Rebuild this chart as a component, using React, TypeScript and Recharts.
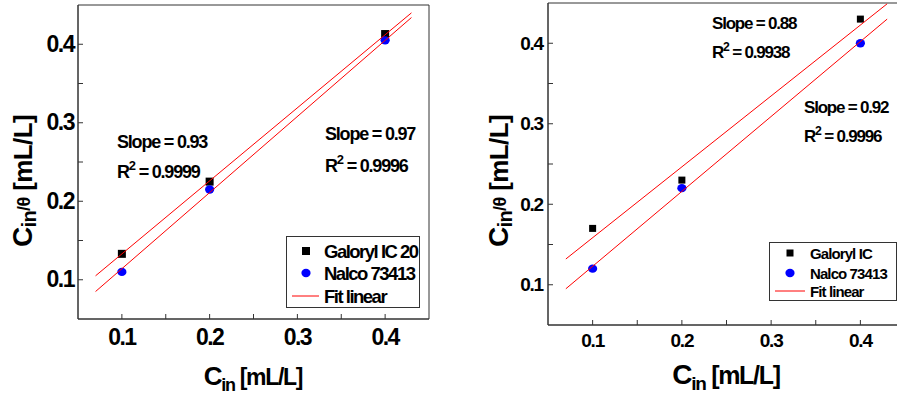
import React from "react";
import { ComposedChart, Scatter, XAxis, YAxis, ReferenceArea } from "recharts";

// shared axis setup
const axisDomain = [0.05, 0.45];
const allTicks = [0.1, 0.15, 0.2, 0.25, 0.3, 0.35, 0.4];
const majorTicks = [0.1, 0.2, 0.3, 0.4];

// concentrations C_in [mL/L]
const cin = [0.1, 0.2, 0.4];

// left panel
const galoryl20 = [0.133, 0.225, 0.413];
const nalcoLeft = [0.11, 0.215, 0.405];
const fitX = [0.07, 0.43];
const fitGaloryl20 = [0.105, 0.44];
const fitNalcoLeft = [0.085, 0.434];

// right panel
const galorylIC = [0.17, 0.23, 0.43];
const nalcoRight = [0.12, 0.22, 0.4];
const fitGalorylIC = [0.132, 0.449];
const fitNalcoRight = [0.095, 0.43];

const FONT = "'Liberation Sans', Arial, sans-serif";
const AXIS = "#333";

const toPoints = (xs: number[], ys: number[]) => xs.map((x, i) => ({ x, y: ys[i] }));
const isMajor = (v: number) => majorTicks.some((t) => Math.abs(t - v) < 1e-6);

const Square = ({ cx, cy, size }: any) => (
  <rect x={cx - size / 2} y={cy - size / 2} width={size} height={size} fill="#000" />
);
const Dot = ({ cx, cy }: any) => <ellipse cx={cx} cy={cy} rx={4.6} ry={4.2} fill="#0000ff" />;
const NoShape = () => <g />;

const makeXTick = (fontSize: number, drop: number, spacing: number) => (props: any) => {
  const { x, y, payload } = props;
  return (
    <g>
      <line x1={x} x2={x} y1={y} y2={y - 5} stroke={AXIS} />
      {isMajor(payload.value) && (
        <text x={x} y={y + drop} textAnchor="middle" fontSize={fontSize} fontWeight="bold" fontFamily={FONT} letterSpacing={spacing} fill="#000">
          {payload.value}
        </text>
      )}
    </g>
  );
};

const makeYTick = (fontSize: number, gap: number, spacing: number) => (props: any) => {
  const { x, y, payload } = props;
  return (
    <g>
      <line x1={x} x2={x + 5} y1={y} y2={y} stroke={AXIS} />
      {isMajor(payload.value) && (
        <text x={x - gap} y={y + fontSize * 0.33} textAnchor="end" fontSize={fontSize} fontWeight="bold" fontFamily={FONT} letterSpacing={spacing} fill="#000">
          {payload.value}
        </text>
      )}
    </g>
  );
};

interface PanelProps {
  left: number;
  width: number;
  margin: { top: number; right: number; bottom: number; left: number };
  yWidth: number;
  xHeight: number;
  tickFont: number;
  tickSpacing: number;
  xDrop: number;
  yGap: number;
  squareSize: number;
  galoryl: number[];
  nalco: number[];
  fitA: number[];
  fitB: number[];
}

const Panel = (p: PanelProps) => (
  <div style={{ position: "absolute", left: p.left, top: 0 }}>
    <ComposedChart width={p.width} height={395} margin={p.margin}>
      <XAxis
        type="number"
        dataKey="x"
        domain={axisDomain}
        ticks={allTicks}
        allowDataOverflow
        interval={0}
        height={p.xHeight}
        tickSize={0}
        tickMargin={0}
        tickLine={false}
        axisLine={{ stroke: AXIS }}
        tick={makeXTick(p.tickFont, p.xDrop, p.tickSpacing)}
      />
      <YAxis
        type="number"
        dataKey="y"
        domain={axisDomain}
        ticks={allTicks}
        allowDataOverflow
        interval={0}
        width={p.yWidth}
        tickSize={0}
        tickMargin={0}
        tickLine={false}
        axisLine={{ stroke: AXIS }}
        tick={makeYTick(p.tickFont, p.yGap, p.tickSpacing)}
      />
      <ReferenceArea x1={0.05} x2={0.45} y1={0.05} y2={0.45} fill="none" stroke={AXIS} strokeWidth={1} ifOverflow="visible" />
      <Scatter data={toPoints(cin, p.galoryl)} shape={(s: any) => <Square {...s} size={p.squareSize} />} isAnimationActive={false} />
      <Scatter data={toPoints(cin, p.nalco)} shape={Dot} isAnimationActive={false} />
      <Scatter data={toPoints(fitX, p.fitA)} line={{ stroke: "#ff0000", strokeWidth: 1 }} shape={NoShape} isAnimationActive={false} />
      <Scatter data={toPoints(fitX, p.fitB)} line={{ stroke: "#ff0000", strokeWidth: 1 }} shape={NoShape} isAnimationActive={false} />
    </ComposedChart>
  </div>
);

const RSquared = ({ x, y, size, value, spacing }: any) => (
  <text x={x} y={y} fontSize={size} fontWeight="bold" fontFamily={FONT} letterSpacing={spacing} fill="#000">
    R<tspan fontSize={size * 0.72} dy={-size * 0.42}>2</tspan>
    <tspan dy={size * 0.42}>{` = ${value}`}</tspan>
  </text>
);

const Note = ({ x, y, size, spacing, children }: any) => (
  <text x={x} y={y} fontSize={size} fontWeight="bold" fontFamily={FONT} letterSpacing={spacing} fill="#000">
    {children}
  </text>
);

const XTitle = ({ cx, y, c, sub, rest, spacing }: any) => (
  <text x={cx} y={y} textAnchor="middle" fontWeight="bold" fontFamily={FONT} fill="#000" letterSpacing={spacing}>
    <tspan fontSize={c}>C</tspan>
    <tspan fontSize={sub} dy={6}>in</tspan>
    <tspan fontSize={rest} dy={-6}> [mL/L]</tspan>
  </text>
);

const YTitle = ({ x, cy }: any) => (
  <text x={x} y={cy} transform={`rotate(-90 ${x} ${cy})`} textAnchor="middle" fontWeight="bold" fontFamily={FONT} letterSpacing={-0.6} fill="#000">
    <tspan fontSize={28}>C</tspan>
    <tspan fontSize={20} dy={4}>in</tspan>
    <tspan fontSize={18} dy={-6}>/θ</tspan>
    <tspan fontSize={26} dy={2}> [mL/L]</tspan>
  </text>
);

export default function App() {
  return (
    <div style={{ position: "fixed", left: 0, top: 0, width: 897, height: 395, overflow: "hidden", background: "#fff" }}>
      <Panel
        left={0}
        width={440}
        margin={{ top: 5, right: 11, bottom: 0, left: 0 }}
        yWidth={78}
        xHeight={76}
        tickFont={23}
        tickSpacing={-1.5}
        xDrop={26}
        yGap={4}
        squareSize={8}
        galoryl={galoryl20}
        nalco={nalcoLeft}
        fitA={fitGaloryl20}
        fitB={fitNalcoLeft}
      />
      <Panel
        left={450}
        width={470}
        margin={{ top: 3, right: 15, bottom: 0, left: 0 }}
        yWidth={98}
        xHeight={70}
        tickFont={19}
        tickSpacing={-1.2}
        xDrop={22}
        yGap={5}
        squareSize={7}
        galoryl={galorylIC}
        nalco={nalcoRight}
        fitA={fitGalorylIC}
        fitB={fitNalcoRight}
      />
      <svg width={897} height={395} style={{ position: "absolute", left: 0, top: 0, pointerEvents: "none" }}>
        {/* left annotations */}
        <Note x={117} y={148} size={18} spacing={-1.2}>Slope = 0.93</Note>
        <RSquared x={117} y={178} size={18} spacing={-1.2} value="0.9999" />
        <Note x={325} y={140} size={18} spacing={-1.2}>Slope = 0.97</Note>
        <RSquared x={325} y={172} size={18} spacing={-1.2} value="0.9996" />
        {/* right annotations */}
        <Note x={712} y={29} size={17} spacing={-1.2}>Slope = 0.88</Note>
        <RSquared x={712} y={58} size={17} spacing={-1.2} value="0.9938" />
        <Note x={804} y={113} size={17} spacing={-1.2}>Slope = 0.92</Note>
        <RSquared x={804} y={142} size={17} spacing={-1.2} value="0.9996" />

        {/* left legend */}
        <rect x={286.5} y={236.5} width={133} height={71} fill="#fff" stroke={AXIS} />
        <rect x={302} y={247} width={8} height={8} fill="#000" />
        <ellipse cx={306} cy={273} rx={4.6} ry={4.2} fill="#0000ff" />
        <line x1={292} x2={319} y1={296} y2={296} stroke="#ff0000" />
        <Note x={324} y={258} size={18.5} spacing={-1.5}>Galoryl IC 20</Note>
        <Note x={324} y={280} size={18.5} spacing={-1.5}>Nalco 73413</Note>
        <Note x={324} y={303} size={18.5} spacing={-1.5}>Fit linear</Note>

        {/* right legend */}
        <rect x={769.5} y={242.5} width={127} height={58} fill="#fff" stroke={AXIS} />
        <rect x={786.5} y={249.5} width={7} height={7} fill="#000" />
        <ellipse cx={790} cy={273} rx={4.6} ry={4.2} fill="#0000ff" />
        <line x1={775} x2={805} y1={291} y2={291} stroke="#ff0000" />
        <Note x={810} y={258.5} size={15} spacing={-0.9}>Galoryl IC</Note>
        <Note x={810} y={278.5} size={15} spacing={-0.9}>Nalco 73413</Note>
        <Note x={810} y={296.5} size={15} spacing={-0.9}>Fit linear</Note>

        {/* axis titles */}
        <XTitle cx={253} y={385} c={26} sub={18} rest={23} spacing={-1.3} />
        <XTitle cx={726} y={384} c={28} sub={19} rest={25} spacing={-1.3} />
        <YTitle x={32} cy={181} />
        <YTitle x={508} cy={181} />
      </svg>
    </div>
  );
}
